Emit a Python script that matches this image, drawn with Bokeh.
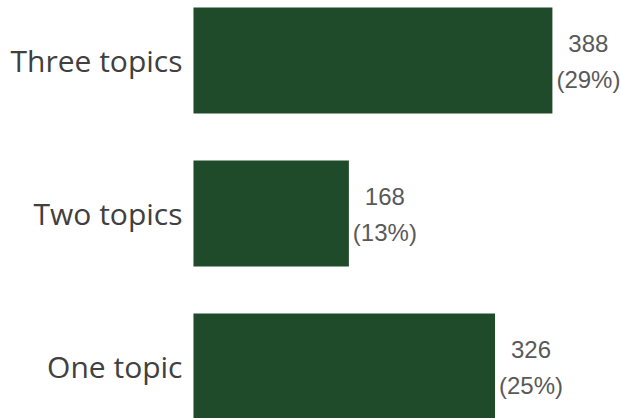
from bokeh.plotting import figure
from bokeh.models import ColumnDataSource, Range1d
from bokeh.core.properties import value
from bokeh.embed import file_html
from bokeh.resources import INLINE

categories = ["One topic", "Two topics", "Three topics"]
counts = [326, 168, 388]
percents = ["25%", "13%", "29%"]

positions = list(range(len(categories)))
labels = [f"{c}\n({p})" for c, p in zip(counts, percents)]
zeros = [0] * len(categories)

src = ColumnDataSource(dict(y=positions, cat=categories, n=counts, lab=labels, x0=zeros))

p = figure(width=621, height=418, output_backend="svg", toolbar_location=None,
           x_range=Range1d(-208.6, 462.7), y_range=Range1d(-0.34, 2.392),
           min_border=0, min_border_left=0, min_border_right=0,
           min_border_top=0, min_border_bottom=0)
p.axis.visible = False
p.grid.visible = False
p.outline_line_color = None
p.background_fill_color = "white"
p.border_fill_color = "white"

p.hbar(y="y", left=0, right="n", height=0.693, source=src,
       fill_color="#1f4b2a", line_color=None)

p.text(x="x0", y="y", text="cat", source=src, x_offset=-11,
       text_align="right", text_baseline="middle",
       text_font=value("Open Sans"), text_font_size="30px", text_color="#404040")

p.text(x="n", y="y", text="lab", source=src, x_offset=36, y_offset=1,
       text_align="center", text_baseline="middle", text_line_height=1.34,
       text_font=value("Liberation Sans"), text_font_size="24px", text_color="#595959")

open("out.html", "w").write(file_html(p, INLINE))
